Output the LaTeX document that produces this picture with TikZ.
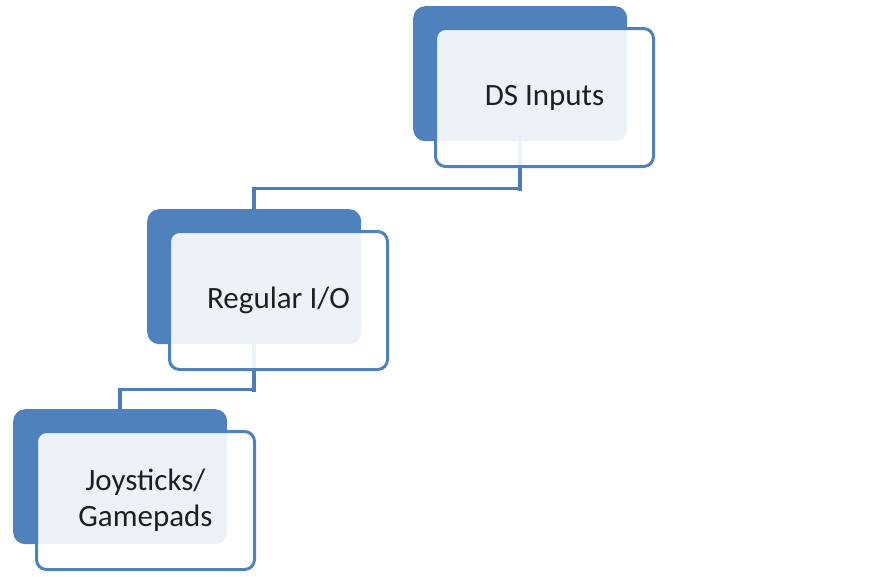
\documentclass[tikz,border=0pt]{standalone}
\usepackage{fontspec}
\setmainfont{Carlito}
\usetikzlibrary{positioning,calc}
\definecolor{ink}{HTML}{1F1F1F}
\definecolor{accent}{HTML}{4F81BD}
\definecolor{wire}{HTML}{4A7DBA}
\tikzset{
  back/.style={draw=none,fill=accent,rounded corners=12pt,minimum width=214pt,minimum height=135pt,inner sep=0pt,anchor=north west},
  front/.style={draw=accent,line width=3pt,fill=white,fill opacity=0.9,text opacity=1,rounded corners=10pt,minimum width=218pt,minimum height=138pt,inner sep=0pt,anchor=north west,align=center,text=ink,font=\fontsize{31}{36}\selectfont},
  link/.style={draw=wire,line width=3.5pt}
}
\begin{document}
\begin{tikzpicture}[x=1pt,y=-1pt]
  \useasboundingbox (0,0) rectangle (888,576);
  % back plates
  \node[back] (dsback) at (413,6) {};
  \node[back] (ioback) at (147,209) {};
  \node[back] (joyback) at (13,409) {};
  % connectors
  \draw[link] (dsback.south) -- ++(0,50);
  \draw[link] ([shift={(0,47)}]dsback.south) -| (ioback.north);
  \draw[link] (ioback.south) -- ++(0,48);
  \draw[link] ([shift={(0,45)}]ioback.south) -| (joyback.north);
  % front cards
  \node[front] (dsfront) at ([shift={(21,21)}]dsback.north west) {DS Inputs};
  \node[front] (iofront) at ([shift={(21,21)}]ioback.north west) {Regular I/O};
  \node[front] (joyfront) at ([shift={(22,21)}]joyback.north west) {Joysticks/\\Gamepads};
\end{tikzpicture}
\end{document}
